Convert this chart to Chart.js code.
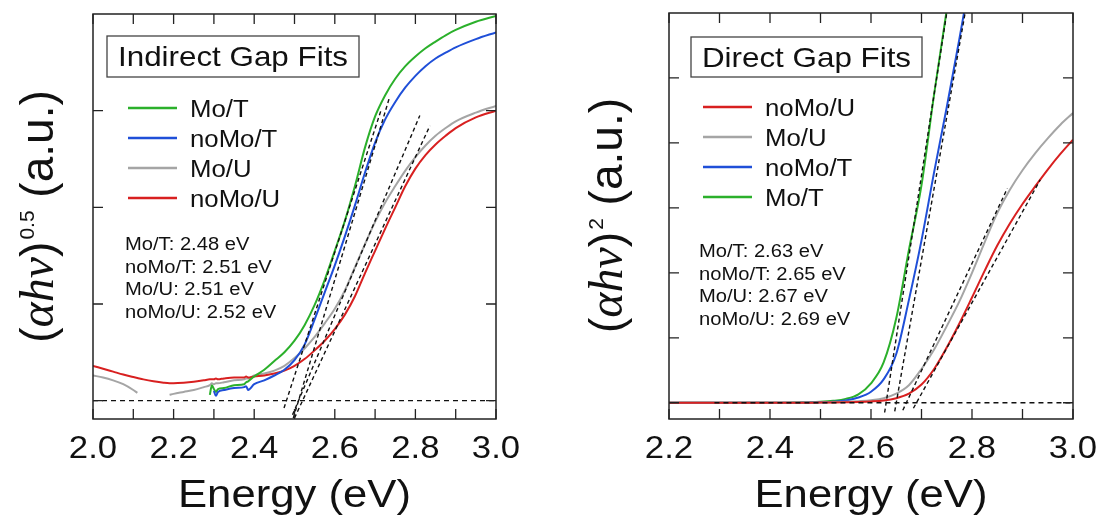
<!DOCTYPE html>
<html>
<head>
<meta charset="utf-8">
<script src="https://cdn.jsdelivr.net/npm/chart.js@4.4.1/dist/chart.umd.min.js"></script>
<style>
  html, body { margin: 0; padding: 0; background: #fff; }
  #wrap { position: relative; width: 1101px; height: 518px; }
  canvas { position: absolute; top: 0; }
  #indirect { left: 0; }
  #direct { left: 550px; }
</style>
</head>
<body>
<div id="wrap">
  <canvas id="indirect" width="550" height="518"></canvas>
  <canvas id="direct" width="551" height="518"></canvas>
</div>
<script>
// ---------- indirect gap panel: (alpha h nu)^0.5 vs energy ----------
const indEnergy = [2.00, 2.025, 2.05, 2.075, 2.10, 2.11, 2.125, 2.15, 2.175, 2.19,
  2.20, 2.225, 2.25, 2.275, 2.29, 2.295, 2.30, 2.305, 2.31, 2.325,
  2.35, 2.375, 2.38, 2.385, 2.40, 2.425, 2.45, 2.475, 2.50, 2.525,
  2.55, 2.575, 2.60, 2.625, 2.65, 2.675, 2.70, 2.725, 2.75, 2.775,
  2.80, 2.825, 2.85, 2.875, 2.90, 2.95, 3.00];
const indMoT = [null, null, null, null, null, null, null, null, null, null,
  null, null, null, null, 0.06, 0.16, 0.12, 0.09, 0.12, 0.13,
  0.16, 0.17, 0.19, 0.20, 0.25, 0.32, 0.41, 0.50, 0.62, 0.78,
  0.99, 1.25, 1.55, 1.86, 2.22, 2.62, 2.94, 3.16, 3.33, 3.46,
  3.56, 3.645, 3.715, 3.78, 3.835, 3.92, 3.98];
const indNoMoT = [null, null, null, null, null, null, null, null, null, null,
  null, null, null, null, null, null, 0.10, 0.05, 0.09, 0.11,
  0.13, 0.14, 0.15, 0.11, 0.17, 0.21, 0.26, 0.32, 0.42, 0.58,
  0.84, 1.12, 1.40, 1.70, 2.02, 2.36, 2.67, 2.91, 3.09, 3.24,
  3.36, 3.46, 3.54, 3.60, 3.655, 3.74, 3.81];
const indMoU = [0.26, 0.24, 0.21, 0.17, 0.11, 0.08, null, null, null, 0.06,
  0.07, 0.09, 0.11, 0.14, 0.16, 0.18, 0.17, 0.18, 0.18, 0.19,
  0.21, 0.22, 0.23, 0.23, 0.26, 0.28, 0.31, 0.36, 0.44, 0.54,
  0.66, 0.80, 0.95, 1.14, 1.38, 1.62, 1.85, 2.05, 2.22, 2.38,
  2.52, 2.64, 2.74, 2.82, 2.89, 2.98, 3.05];
const indNoMoU = [0.36, 0.33, 0.30, 0.27, 0.245, 0.235, 0.22, 0.20, 0.185, 0.18,
  0.18, 0.185, 0.195, 0.21, 0.22, 0.22, 0.22, 0.23, 0.22, 0.23,
  0.24, 0.24, 0.25, 0.24, 0.25, 0.26, 0.28, 0.31, 0.36, 0.43,
  0.52, 0.62, 0.74, 0.89, 1.08, 1.32, 1.55, 1.78, 2.00, 2.22,
  2.40, 2.54, 2.65, 2.74, 2.82, 2.93, 3.00];
// linear fits: x-intercept (gap), slope, energy span of the dashed line
const indNames = ['Mo/T', 'noMo/T', 'Mo/U', 'noMo/U'];
const indGaps = [2.48, 2.51, 2.51, 2.52];
const indSlopes = [12.8, 13.9, 9.8, 9.0];
const indFitFrom = [2.474, 2.497, 2.495, 2.50];
const indFitTo = [2.716, 2.735, 2.811, 2.836];

// ---------- direct gap panel: (alpha h nu)^2 vs energy ----------
const dirEnergy = [2.20, 2.30, 2.40, 2.45, 2.50, 2.525, 2.55, 2.575, 2.60, 2.625,
  2.65, 2.675, 2.70, 2.725, 2.75, 2.775, 2.80, 2.825, 2.85, 2.875,
  2.90, 2.925, 2.95, 2.975, 3.00];
const dirMoT = [0, 0, 0, 0.003, 0.015, 0.03, 0.06, 0.13, 0.30, 0.62,
  1.30, 2.35, 3.35, 4.75, 6.05, 7.30, null, null, null, null,
  null, null, null, null, null];
const dirNoMoT = [0, 0, 0, 0.002, 0.008, 0.015, 0.035, 0.08, 0.17, 0.36,
  0.75, 1.58, 2.50, 3.55, 4.55, 5.60, 6.70, null, null, null,
  null, null, null, null, null];
const dirMoU = [0, 0, 0, 0.001, 0.004, 0.008, 0.015, 0.025, 0.04, 0.07,
  0.14, 0.27, 0.52, 0.82, 1.18, 1.56, 2.00, 2.47, 2.92, 3.28,
  3.58, 3.84, 4.07, 4.28, 4.46];
const dirNoMoU = [0, 0, 0, 0, 0.003, 0.005, 0.008, 0.012, 0.02, 0.035,
  0.07, 0.14, 0.28, 0.52, 0.85, 1.22, 1.62, 2.03, 2.42, 2.76,
  3.06, 3.33, 3.59, 3.83, 4.05];
const dirNames = ['Mo/T', 'noMo/T', 'Mo/U', 'noMo/U'];
const dirGaps = [2.63, 2.65, 2.67, 2.69];
const dirSlopes = [50, 44, 16.5, 14];
const dirFitFrom = [2.627, 2.647, 2.663, 2.684];
const dirFitTo = [2.76, 2.80, 2.87, 2.935];

const COLORS = {
  'Mo/T': '#2bb02b',
  'noMo/T': '#1f4fd8',
  'Mo/U': '#a5a5a5',
  'noMo/U': '#d82020'
};
const STRETCH = 1.12;   // labels are set a little wide
const SANS = '"Liberation Sans", Arial, sans-serif';

function curve(name, energy, values, order) {
  return {
    label: name,
    data: energy.map((e, i) => ({ x: e, y: values[i] })),
    borderColor: COLORS[name],
    borderWidth: 2,
    pointRadius: 0,
    cubicInterpolationMode: 'monotone',
    spanGaps: false,
    order: order
  };
}

function fitLine(gap, slope, from, to) {
  return {
    label: 'fit',
    data: [{ x: from, y: slope * (from - gap) }, { x: to, y: slope * (to - gap) }],
    borderColor: '#111',
    borderWidth: 1.4,
    borderDash: [4, 3],
    pointRadius: 0,
    order: 0
  };
}

function baseline(from, to) {
  return {
    label: 'zero',
    data: [{ x: from, y: 0 }, { x: to, y: 0 }],
    borderColor: '#111',
    borderWidth: 1.3,
    borderDash: [5, 4],
    pointRadius: 0,
    order: 0
  };
}

// stretched text, anchored at left / center
function wideText(ctx, text, x, y, align) {
  const w = ctx.measureText(text).width * STRETCH;
  const x0 = align === 'center' ? x - w / 2 : x;
  ctx.save();
  ctx.translate(x0, y);
  ctx.scale(STRETCH, 1);
  ctx.textAlign = 'left';
  ctx.fillText(text, 0, 0);
  ctx.restore();
}

function drawYTitle(ctx, spec) {
  const parts = [
    { s: '(', font: '46px ' + SANS, dy: 0 },
    { s: 'αhν', font: 'italic 48px "Liberation Serif", serif', dy: 0 },
    { s: ')', font: '46px ' + SANS, dy: 0 },
    { s: spec.power, font: '21px ' + SANS, dy: -19, pad: 2 },
    { s: ' (a.u.)', font: '46px ' + SANS, dy: 0 }
  ];
  let total = 0;
  parts.forEach(p => {
    ctx.font = p.font;
    p.w = ctx.measureText(p.s).width;
    total += p.w + (p.pad || 0);
  });
  ctx.save();
  ctx.translate(spec.yTitleX, spec.yTitleMid + total / 2);
  ctx.rotate(-Math.PI / 2);
  let pos = 0;
  parts.forEach(p => {
    ctx.font = p.font;
    pos += p.pad || 0;
    ctx.fillText(p.s, pos, p.dy);
    pos += p.w;
  });
  ctx.restore();
}

function decor(spec) {
  return {
    id: 'decor',
    afterDraw(chart) {
      const ctx = chart.ctx;
      const a = chart.chartArea;
      const xs = chart.scales.x;
      const ys = chart.scales.y;
      ctx.save();
      ctx.fillStyle = '#111';
      ctx.textBaseline = 'alphabetic';

      // frame and inward ticks on all four sides
      ctx.strokeStyle = '#222';
      ctx.lineWidth = 1.5;
      ctx.strokeRect(a.left, a.top, a.right - a.left, a.bottom - a.top);
      ctx.lineWidth = 1.3;
      ctx.beginPath();
      xs.ticks.forEach(t => {
        const px = xs.getPixelForValue(t.value);
        ctx.moveTo(px, a.bottom); ctx.lineTo(px, a.bottom - 10);
        ctx.moveTo(px, a.top); ctx.lineTo(px, a.top + 10);
      });
      ys.ticks.forEach(t => {
        if (Math.abs(t.value - Math.round(t.value)) > 1e-6 || t.value >= ys.max) return;
        const py = ys.getPixelForValue(t.value);
        ctx.moveTo(a.left, py); ctx.lineTo(a.left + 10, py);
        ctx.moveTo(a.right, py); ctx.lineTo(a.right - 10, py);
      });
      ctx.stroke();

      // x tick labels every 0.2 eV
      ctx.font = '31px ' + SANS;
      xs.ticks.forEach(t => {
        if (Math.round(t.value * 10) % 2 !== 0) return;
        wideText(ctx, t.value.toFixed(1), xs.getPixelForValue(t.value), 458, 'center');
      });

      // x axis title
      ctx.font = '39px ' + SANS;
      wideText(ctx, 'Energy (eV)', (a.left + a.right) / 2, 507, 'center');

      drawYTitle(ctx, spec);

      // boxed panel heading
      const b = spec.box;
      ctx.strokeStyle = '#444';
      ctx.lineWidth = 1.3;
      ctx.strokeRect(b.left, b.top, b.right - b.left, b.bottom - b.top);
      ctx.font = '28px ' + SANS;
      wideText(ctx, spec.heading, (b.left + b.right) / 2, b.top + 30, 'center');

      // legend
      ctx.font = '23px ' + SANS;
      ctx.lineWidth = 2.5;
      spec.legend.forEach((name, i) => {
        const y = spec.legendY + 30 * i;
        ctx.strokeStyle = COLORS[name];
        ctx.beginPath();
        ctx.moveTo(spec.legendX, y);
        ctx.lineTo(spec.legendX + 49, y);
        ctx.stroke();
        wideText(ctx, name, spec.legendX + 62, y + 9, 'left');
      });

      // gap values from the fits
      ctx.font = '18px ' + SANS;
      spec.names.forEach((name, i) => {
        wideText(ctx, name + ': ' + spec.gaps[i].toFixed(2) + ' eV', spec.noteX, spec.noteY + 22.6 * i, 'left');
      });
      ctx.restore();
    }
  };
}

function makeChart(id, spec) {
  return new Chart(document.getElementById(id), {
    type: 'line',
    data: { datasets: spec.datasets },
    options: {
      responsive: false,
      animation: false,
      events: [],
      layout: { padding: { top: spec.top, right: spec.padRight, left: 0, bottom: 0 } },
      plugins: { legend: { display: false }, tooltip: { enabled: false } },
      scales: {
        x: {
          type: 'linear', min: spec.xMin, max: spec.xMax,
          grid: { display: false }, border: { display: false },
          ticks: { display: false, stepSize: 0.1 },
          afterFit: s => { s.height = 99; }
        },
        y: {
          type: 'linear', min: spec.yMin, max: spec.yMax,
          grid: { display: false }, border: { display: false },
          ticks: { display: false, stepSize: 1 },
          afterFit: s => { s.width = spec.yWidth; }
        }
      }
    },
    plugins: [decor(spec)]
  });
}

const indFits = indNames.map((n, i) => fitLine(indGaps[i], indSlopes[i], indFitFrom[i], indFitTo[i]));
makeChart('indirect', {
  datasets: [
    ...indFits,
    baseline(2.0, 3.0),
    curve('noMo/T', indEnergy, indNoMoT, 1),
    curve('Mo/T', indEnergy, indMoT, 2),
    curve('noMo/U', indEnergy, indNoMoU, 3),
    curve('Mo/U', indEnergy, indMoU, 4)
  ],
  xMin: 2.0, xMax: 3.0, yMin: -0.19, yMax: 4.0,
  top: 14, padRight: 54, yWidth: 93,
  yTitleX: 53, yTitleMid: 216.5, power: '0.5',
  box: { left: 107, right: 359, top: 36, bottom: 77 },
  heading: 'Indirect Gap Fits',
  legend: ['Mo/T', 'noMo/T', 'Mo/U', 'noMo/U'],
  legendX: 128, legendY: 108,
  names: indNames, gaps: indGaps,
  noteX: 125, noteY: 250
});

const dirFits = dirNames.map((n, i) => fitLine(dirGaps[i], dirSlopes[i], dirFitFrom[i], dirFitTo[i]));
makeChart('direct', {
  datasets: [
    ...dirFits,
    baseline(2.29, 3.0),
    curve('noMo/U', dirEnergy, dirNoMoU, 1),
    curve('Mo/U', dirEnergy, dirMoU, 2),
    curve('noMo/T', dirEnergy, dirNoMoT, 3),
    curve('Mo/T', dirEnergy, dirMoT, 4)
  ],
  xMin: 2.2, xMax: 3.0, yMin: -0.25, yMax: 6.0,
  top: 13, padRight: 28, yWidth: 119,
  yTitleX: 72, yTitleMid: 215.5, power: '2',
  box: { left: 141, right: 372, top: 37, bottom: 77 },
  heading: 'Direct Gap Fits',
  legend: ['noMo/U', 'Mo/U', 'noMo/T', 'Mo/T'],
  legendX: 153, legendY: 107,
  names: dirNames, gaps: dirGaps,
  noteX: 149, noteY: 257
});
</script>
</body>
</html>
